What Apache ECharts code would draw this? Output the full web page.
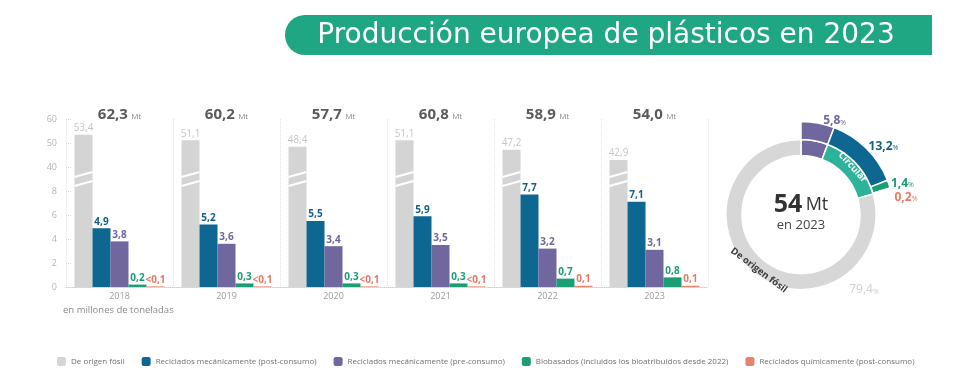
<!DOCTYPE html>
<html><head><meta charset="utf-8">
<script src="https://cdn.jsdelivr.net/npm/echarts@6/dist/echarts.min.js"></script>
<style>html,body{margin:0;padding:0;background:#fff}#c{width:980px;height:392px}</style>
</head><body><div id="c"></div>
<script>
// ---- data ----
const years = ['2018', '2019', '2020', '2021', '2022', '2023'];
const totals = [62.3, 60.2, 57.7, 60.8, 58.9, 54.0];
const fossil = [53.4, 51.1, 48.4, 51.1, 47.2, 42.9];
const mechPost = [4.9, 5.2, 5.5, 5.9, 7.7, 7.1];
const mechPre = [3.8, 3.6, 3.4, 3.5, 3.2, 3.1];
const biobased = [0.2, 0.3, 0.3, 0.3, 0.7, 0.8];
const chemical = [0.05, 0.05, 0.05, 0.05, 0.1, 0.1];
const chemicalLabels = ['<0,1', '<0,1', '<0,1', '<0,1', '0,1', '0,1'];
const yTicks = [0, 2, 4, 6, 8, 40, 50, 60];
const seriesNames = ['De origen fósil', 'Reciclados mecánicamente (post-consumo)', 'Reciclados mecánicamente (pre-consumo)', 'Biobasados (incluidos los bioatribuidos desde 2022)', 'Reciclados químicamente (post-consumo)'];
const shareNames = ['De origen fósil', 'Reciclados mecánicamente (pre-consumo)', 'Reciclados mecánicamente (post-consumo)', 'Biobasados', 'Reciclados químicamente'];
const shareValues = [79.4, 5.8, 13.2, 1.4, 0.2];
const circularLabel = 'Circular';
const unitLabel = 'en millones de toneladas';
const titleText = 'Producción europea de plásticos en 2023';

// ---- helpers ----
const FONT = 'Open Sans';
const COL = { fossil: '#d4d4d4', post: '#0d6790', pre: '#6f679d', bio: '#1b9d76', chem: '#e8826d', teal: '#2db39a' };
const fmt = v => (+v.toFixed(1)).toFixed(1).replace('.', ',');
function toAxis(v) {
  for (let i = 0; i < yTicks.length - 1; i++) {
    if (v <= yTicks[i + 1]) return i + (v - yTicks[i]) / (yTicks[i + 1] - yTicks[i]);
  }
  return yTicks.length - 1;
}
const breakPos = (yTicks.indexOf(8) + yTicks.indexOf(40)) / 2;
const BW = 18;

function barSeries(name, values, color, labelColor, labels, weight, size) {
  return {
    name, type: 'bar', barWidth: BW, barGap: '0%',
    itemStyle: { color },
    data: values.map(v => toAxis(v)),
    label: {
      show: true, position: 'top', distance: 1.5, color: labelColor,
      fontSize: size || 10, fontWeight: weight || 'bold', fontFamily: FONT,
      formatter: p => labels ? labels[p.dataIndex] : fmt(values[p.dataIndex])
    },
    z: 2
  };
}

const chart = echarts.init(document.getElementById('c'), null, { renderer: 'canvas' });

const circularValue = shareValues.slice(2).reduce((a, b) => a + b, 0);
const outerColors = [COL.pre, COL.post, COL.bio, COL.chem];
const outerLabelColors = ['#6f679d', '#145f86', '#1b9d76', '#e67a64'];

const option = {
  backgroundColor: '#fff',
  textStyle: { fontFamily: FONT },
  animation: false,
  graphic: [
    { type: 'rect', shape: { x: 285, y: 15, width: 647, height: 40, r: [20, 0, 0, 20] }, style: { fill: '#1fa683' } },
    { type: 'text', x: 606, y: 36, style: { text: titleText, fill: '#fff', font: '28px "DejaVu Sans"', align: 'center', verticalAlign: 'middle' } },
    { type: 'text', x: 801, y: 205, style: { text: `{a|${fmt(totals[5]).replace(',0', '')}} {b|Mt}`, align: 'center', verticalAlign: 'middle',
      rich: { a: { fontSize: 25, fontWeight: 'bold', fill: '#333', fontFamily: FONT }, b: { fontSize: 18, fill: '#333', fontFamily: FONT } } } },
    { type: 'text', x: 801, y: 225, style: { text: 'en ' + years[5], align: 'center', verticalAlign: 'middle', fill: '#444', font: '13px "Open Sans"' } },
    { type: 'text', x: 864, y: 290, style: { text: `{v|${fmt(shareValues[0])}}{p|%}`, align: 'center', verticalAlign: 'middle',
      rich: { v: { fontSize: 12, fill: '#cfcfcf', fontFamily: FONT }, p: { fontSize: 7, fill: '#cfcfcf', fontFamily: FONT, padding: [3, 0, 0, 0] } } } }
  ],
  legend: {
    data: seriesNames, left: 52, top: 352, itemWidth: 9, itemHeight: 9, itemGap: 17, icon: 'roundRect',
    textStyle: { fontSize: 8, color: '#707070', fontFamily: FONT }, selectedMode: false
  },
  grid: { left: 66, right: 272, top: 119, bottom: 105 },
  xAxis: {
    type: 'category', data: years,
    axisLine: { lineStyle: { color: '#cfcfcf', type: 'dotted' } },
    axisTick: { show: false },
    axisLabel: { color: '#9a9a9a', fontSize: 9, margin: 5, fontFamily: FONT },
    splitLine: { show: true, interval: 0, lineStyle: { color: '#e3e3e3', type: 'dotted' } }
  },
  yAxis: {
    type: 'value', min: 0, max: yTicks.length - 1, interval: 1,
    name: unitLabel, nameLocation: 'start', nameGap: 18,
    nameTextStyle: { align: 'left', color: '#8a8a8a', fontSize: 9.5, fontFamily: FONT, padding: [0, 0, 0, -3] },
    axisLine: { show: false },
    axisTick: { show: true, inside: true, length: 5, lineStyle: { color: '#d8d8d8', type: 'dotted' } },
    axisLabel: { color: '#b3b3b3', fontSize: 9, margin: 9, fontFamily: FONT, formatter: v => String(yTicks[v]) },
    splitLine: { show: false }
  },
  series: [
    barSeries(seriesNames[0], fossil, COL.fossil, '#c6c6c6', null, 'normal', 10),
    barSeries(seriesNames[1], mechPost, COL.post, '#145f86'),
    barSeries(seriesNames[2], mechPre, COL.pre, '#6f679d'),
    barSeries(seriesNames[3], biobased, COL.bio, '#1b9d76'),
    barSeries(seriesNames[4], chemical, COL.chem, '#e67a64', chemicalLabels),
    {
      type: 'custom', coordinateSystem: 'cartesian2d', clip: false, silent: true, z: 5,
      data: years.map((y, i) => [i, toAxis(fossil[i])]),
      renderItem(params, api) {
        const i = api.value(0);
        const c = api.coord([i, breakPos]);
        const x0 = c[0] - 2.5 * BW, x1 = c[0] - 1.5 * BW;
        const lines = [-4.5, 4.5].map(d => ({
          type: 'line', shape: { x1: x0, y1: c[1] + d + 2.5, x2: x1, y2: c[1] + d - 2.5 },
          style: { stroke: '#fff', lineWidth: 2.2 }
        }));
        const t = api.coord([i, yTicks.length - 1]);
        const txt = {
          type: 'text', x: t[0], y: t[1] - 4,
          style: {
            text: `{a|${fmt(totals[i])}} {b|Mt}`, align: 'center', verticalAlign: 'middle',
            rich: { a: { fontSize: 15, fontWeight: 'bold', fill: '#5a5a5a', fontFamily: FONT }, b: { fontSize: 8, fill: '#8a8a8a', fontFamily: FONT, padding: [3, 0, 0, 0] } }
          }
        };
        return { type: 'group', children: lines.concat([txt]) };
      }
    },
    {
      type: 'pie', center: [801, 214.5], radius: [59, 75], startAngle: 90, clockwise: true, silent: true,
      itemStyle: { borderColor: '#fff', borderWidth: 1.5 },
      labelLine: { show: false },
      data: [
        { name: shareNames[1], value: shareValues[1], itemStyle: { color: COL.pre }, label: { show: false } },
        { name: circularLabel, value: circularValue, itemStyle: { color: COL.teal },
          label: { show: true, position: 'inside', rotate: 'tangential', formatter: circularLabel, color: '#fff', fontSize: 9.5, fontWeight: 'bold', fontFamily: FONT } },
        { name: shareNames[0], value: shareValues[0], itemStyle: { color: '#d7d7d7' },
          label: { show: true, position: 'inside', rotate: 'tangential', formatter: shareNames[0], color: '#3a3a3a', fontSize: 9.5, fontWeight: 'bold', fontFamily: FONT } }
      ]
    },
    {
      type: 'pie', center: [801, 214.5], radius: [75, 93], startAngle: 90, clockwise: true, silent: true,
      itemStyle: { borderColor: '#fff', borderWidth: 1.5 },
      avoidLabelOverlap: true,
      label: { show: true, position: 'outside', fontFamily: FONT },
      labelLine: { show: false, length: 2, length2: 0 },
      data: shareValues.slice(1).map((v, k) => ({
        name: shareNames[k + 1], value: v, itemStyle: { color: outerColors[k] },
        label: {
          formatter: `{v|${fmt(v)}}{p|%}`,
          rich: { v: { fontSize: 12, fontWeight: 'bold', color: outerLabelColors[k], fontFamily: FONT }, p: { fontSize: 7, color: outerLabelColors[k], fontFamily: FONT, padding: [3, 0, 0, 0] } }
        }
      })).concat([{ name: 'resto', value: shareValues[0], itemStyle: { color: 'rgba(0,0,0,0)', borderWidth: 0 }, label: { show: false } }])
    }
  ]
};
chart.setOption(option);
</script>
</body></html>
